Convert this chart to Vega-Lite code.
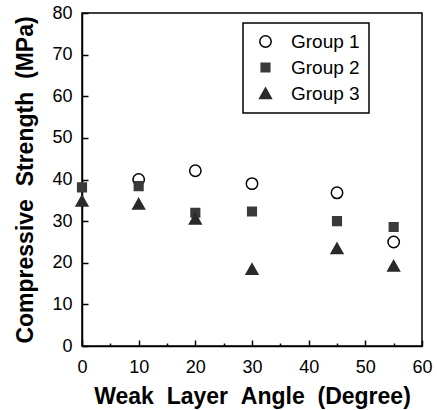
{
  "$schema": "https://vega.github.io/schema/vega-lite/v6.json",
  "width": 340,
  "height": 333,
  "autosize": {"type": "none"},
  "padding": {"left": 82, "top": 13, "right": 15, "bottom": 64},
  "background": "white",
  "config": {
    "font": "Liberation Sans",
    "view": {"stroke": "black", "strokeWidth": 1.5},
    "axis": {
      "domainColor": "black",
      "domainWidth": 1.5,
      "tickColor": "black",
      "tickWidth": 1.5,
      "grid": false,
      "labelColor": "black",
      "titleColor": "black",
      "labelFont": "Liberation Sans",
      "titleFont": "Liberation Sans"
    },
    "legend": {
      "orient": "none",
      "legendX": 161,
      "legendY": 10,
      "strokeColor": "black",
      "strokeWidth": 1.5,
      "fillColor": "white",
      "padding": 9,
      "symbolOffset": 4,
      "symbolSize": 144,
      "labelFontSize": 19,
      "labelColor": "black",
      "labelFont": "Liberation Sans",
      "labelOffset": 16,
      "rowPadding": 6,
      "symbolStrokeWidth": 1.5,
      "symbolStrokeColor": "black"
    }
  },
  "data": {
    "values": [
      {"angle": 10, "strength": 40.0, "group": "Group 1"},
      {"angle": 20, "strength": 42.1, "group": "Group 1"},
      {"angle": 30, "strength": 39.0, "group": "Group 1"},
      {"angle": 45, "strength": 36.8, "group": "Group 1"},
      {"angle": 55, "strength": 25.0, "group": "Group 1"},
      {"angle": 0, "strength": 38.1, "group": "Group 2"},
      {"angle": 10, "strength": 38.4, "group": "Group 2"},
      {"angle": 20, "strength": 32.0, "group": "Group 2"},
      {"angle": 30, "strength": 32.3, "group": "Group 2"},
      {"angle": 45, "strength": 30.0, "group": "Group 2"},
      {"angle": 55, "strength": 28.6, "group": "Group 2"},
      {"angle": 0, "strength": 34.8, "group": "Group 3"},
      {"angle": 10, "strength": 34.1, "group": "Group 3"},
      {"angle": 20, "strength": 30.5, "group": "Group 3"},
      {"angle": 30, "strength": 18.4, "group": "Group 3"},
      {"angle": 45, "strength": 23.4, "group": "Group 3"},
      {"angle": 55, "strength": 19.2, "group": "Group 3"}
    ]
  },
  "mark": {"type": "point", "filled": true, "size": 144, "strokeWidth": 1.5, "opacity": 1, "clip": false},
  "encoding": {
    "x": {
      "field": "angle",
      "type": "quantitative",
      "scale": {"domain": [0, 60], "nice": false, "zero": false},
      "axis": {
        "values": [0, 5, 10, 15, 20, 25, 30, 35, 40, 45, 50, 55, 60],
        "labelExpr": "datum.value % 10 === 0 ? datum.label : ''",
        "tickSize": {"condition": {"test": "datum.value % 10 === 0", "value": -6}, "value": -3},
        "labelPadding": 18,
        "labelFontSize": 18,
        "labelFlush": false,
        "title": "Weak\u00a0\u00a0Layer\u00a0\u00a0Angle\u00a0\u00a0(Degree)",
        "titleFontSize": 23,
        "titleFontWeight": "bold",
        "titlePadding": 9
      }
    },
    "y": {
      "field": "strength",
      "type": "quantitative",
      "scale": {"domain": [0, 80], "nice": false, "zero": false},
      "axis": {
        "values": [0, 10, 20, 30, 40, 50, 60, 70, 80],
        "tickSize": -6,
        "labelPadding": 16,
        "labelFontSize": 18,
        "labelFlush": false,
        "title": "Compressive\u00a0\u00a0Strength\u00a0\u00a0(MPa)",
        "titleFontSize": 23,
        "titleFontWeight": "bold",
        "titlePadding": 14
      }
    },
    "shape": {
      "field": "group",
      "type": "nominal",
      "title": null,
      "scale": {"domain": ["Group 1", "Group 2", "Group 3"], "range": ["M0.95,0A0.95,0.95 0 1,1 -0.95,0A0.95,0.95 0 1,1 0.95,0Z", "M-0.72,-0.72H0.72V0.72H-0.72Z", "M0,-0.92L0.98,0.82L-0.98,0.82Z"]},
      "legend": {"labelExpr": "datum.label + '\u00a0\u00a0'"}
    },
    "fill": {
      "field": "group",
      "type": "nominal",
      "title": null,
      "scale": {"domain": ["Group 1", "Group 2", "Group 3"], "range": ["white", "#3a3a3a", "#2a2a2a"]},
      "legend": {"labelExpr": "datum.label + '\u00a0\u00a0'"}
    },
    "stroke": {
      "field": "group",
      "type": "nominal",
      "title": null,
      "scale": {"domain": ["Group 1", "Group 2", "Group 3"], "range": ["black", "#3a3a3a", "#2a2a2a"]},
      "legend": {"labelExpr": "datum.label + '\u00a0\u00a0'"}
    }
  }
}
